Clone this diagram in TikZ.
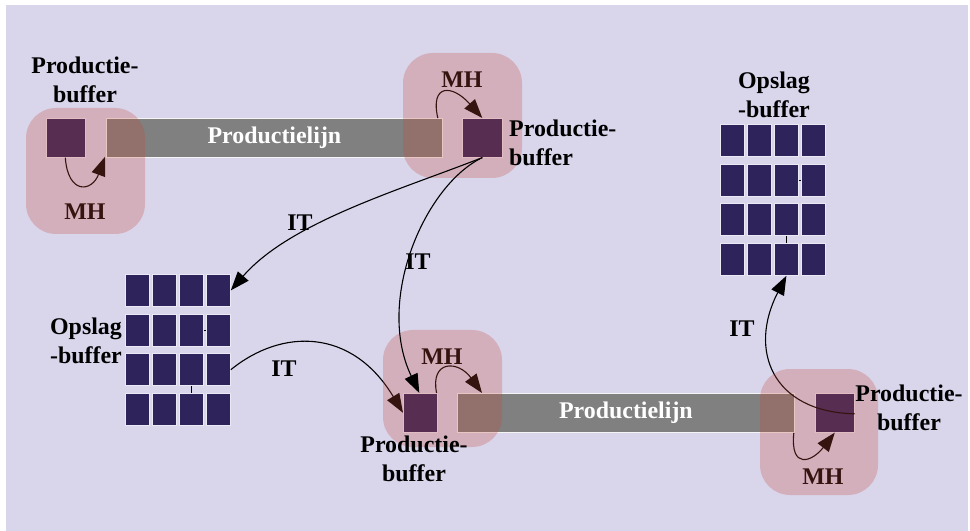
\documentclass[tikz,border=0pt]{standalone}
\usepackage{fontspec}
\setmainfont{Liberation Serif}
\usetikzlibrary{arrows.meta}
\definecolor{bg}{RGB}{217,214,236}
\definecolor{navy}{RGB}{46,35,90}
\definecolor{overlaycol}{RGB}{198,73,58}
\definecolor{bargray}{RGB}{128,128,128}
\definecolor{celledge}{RGB}{236,233,246}
\begin{document}
\begin{tikzpicture}[x=1bp,y=-1bp,
  lbl/.style={font=\fontsize{24}{29}\selectfont\bfseries, align=center, inner sep=0pt},
  tag/.style={font=\fontsize{24}{29}\selectfont\bfseries, inner sep=0pt, anchor=base},
  barbox/.style={fill=bargray, draw=white!92!gray, line width=0.8bp, inner sep=0pt, anchor=north west,
    minimum height=39bp, text=white, font=\fontsize{24}{29}\selectfont\bfseries},
  bufsq/.style={fill=navy, draw=celledge, line width=0.6bp, inner sep=0pt, anchor=north west,
    minimum height=39bp},
  cell/.style={fill=navy, draw=celledge, line width=0.8bp, inner sep=0pt, anchor=north west,
    minimum width=24bp, minimum height=32bp},
  zone/.style={fill=overlaycol, fill opacity=0.27, rounded corners=30bp},
  arr/.style={-{Triangle[length=19bp,width=14bp]}, line width=1.1bp, black},
  tick/.style={line width=0.9bp, black}
]
\useasboundingbox (0,0) rectangle (970,531);
\fill[bg] (6,5) rectangle (968,531);

% production lines
\node[barbox, minimum width=336bp] (bar1) at (106,118) {Productielijn};
\node[barbox, minimum width=337bp] (bar2) at (457,393) {Productielijn};

% production buffers
\node[bufsq, minimum width=39bp] (A) at (46,118) {};
\node[bufsq, minimum width=40bp] (B) at (462,118) {};
\node[bufsq, minimum width=34bp] (C) at (403,393) {};
\node[bufsq, minimum width=39bp] (D) at (815,393) {};

% storage grids
\foreach \r in {1,...,4}{
  \foreach \c in {1,...,4}{
    \node[cell] (L-\r-\c) at ({125+(\c-1)*27},{274+(\r-1)*39.67}) {};
    \node[cell] (R-\r-\c) at ({720+(\c-1)*27},{124+(\r-1)*39.67}) {};
  }
}
\draw[tick] (L-2-3.east) -- (L-2-4.west);
\draw[tick] (L-3-3.south) -- (L-4-3.north);
\draw[tick] (R-2-3.east) -- (R-2-4.west);
\draw[tick] (R-3-3.south) -- (R-4-3.north);

% MH arrows (under the zones)
\draw[arr] ([xshift=-0.5bp]A.south) .. controls (68,195) and (92,192) .. ([xshift=-1bp,yshift=1bp]bar1.south west);
\draw[arr] ([xshift=-5bp]bar1.north east) .. controls (430,84) and (452,84) .. (B.north);
\draw[arr] ([xshift=-1bp]C.north east) .. controls (430,360) and (458,360) .. ([xshift=25bp]bar2.north west);
\draw[arr] ([xshift=-1bp]bar2.south east) .. controls (790,470) and (812,462) .. (D.south);

% IT arrows under the zones
\draw[arr] (L-3-4.east) .. controls (282,328) and (352,328) .. (C.west);
\draw[arr] ([yshift=-1bp]D.east) .. controls (772,412) and (748,350) .. (R-4-3.south);

% MH labels
\node[tag] (mh1) at (85,220) {MH};
\node[tag] (mh2) at (462,88) {MH};
\node[tag] (mh3) at (442,365) {MH};
\node[tag] (mh4) at (823,484) {MH};

% zones
\fill[zone] (26,108) rectangle (145,234);
\fill[zone] (403,53) rectangle (522,178);
\fill[zone] (383,330) rectangle (502,447);
\fill[zone] (760,369) rectangle (878,495);

% IT arrows above the zones
\draw[arr] (B.south) .. controls (400,190) and (290,222) .. (L-1-4.east);
\draw[arr] (B.south) .. controls (425,185) and (375,300) .. ([xshift=-1bp]C.north);

% IT labels
\node[tag] (it1) at (300,231) {IT};
\node[tag] (it2) at (418,270) {IT};
\node[tag] (it3) at (284,377) {IT};
\node[tag] (it4) at (742,337) {IT};

% buffer labels
\node[lbl] (pb1) at (85,80) {Productie-\\buffer};
\node[lbl, align=left, anchor=west] (pb2) at (509,143) {Productie-\\buffer};
\node[lbl] (pb3) at (414,459) {Productie-\\buffer};
\node[lbl] (pb4) at (909,408) {Productie-\\buffer};
\node[lbl] (ob1) at (774,95) {Opslag\\-buffer};
\node[lbl] (ob2) at (86,341) {Opslag\\-buffer};
\end{tikzpicture}
\end{document}
